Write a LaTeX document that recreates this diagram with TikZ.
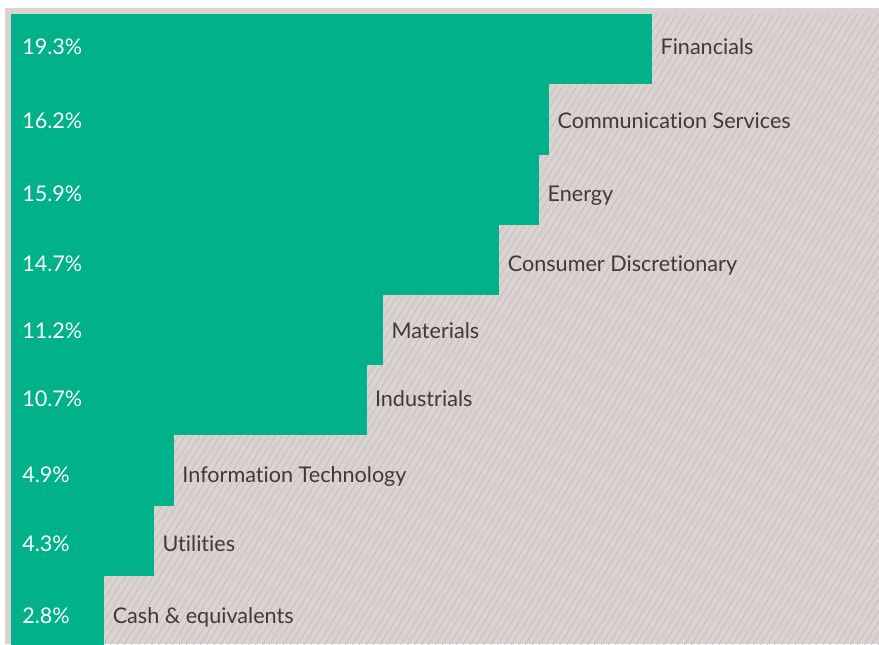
\documentclass[tikz,border=0pt]{standalone}
\usepackage{fontspec}
\setmainfont[Ligatures=NoCommon]{Lato}
\usepackage{tikz}
\usetikzlibrary{patterns.meta}

\definecolor{barGreen}{HTML}{00B189}
\definecolor{paneGrey}{HTML}{D9D4D2}
\definecolor{hatchGrey}{HTML}{C4B9B4}
\definecolor{labelGrey}{HTML}{3F3A37}

\tikzset{
  sectorbar/.style={draw=none, fill=barGreen, inner sep=0pt, anchor=north west,
    minimum height=52.65pt, minimum width=#1*24.9pt},
  pctlabel/.style={inner sep=0pt, anchor=base west, text=white},
  sectorlabel/.style={inner sep=0pt, anchor=base west, text=labelGrey, xshift=6pt},
}

\begin{document}
\begin{tikzpicture}[x=0.75pt, y=-0.75pt, font=\fontsize{16.2}{19}\selectfont]
\useasboundingbox (0,0) rectangle (879,644);
\fill[white] (0,0) rectangle (879,644);
\fill[paneGrey] (5,8) rectangle (879,644);
\path[pattern={Lines[angle=58, distance=4.4pt, line width=0.45pt]}, pattern color=hatchGrey]
  (11,14) rectangle (879,644);

\node[sectorbar=19.3] (FIN) at (11,14) {};
\node[sectorbar=16.2] (COM) at (11,84.2) {};
\node[sectorbar=15.9] (ENE) at (11,154.4) {};
\node[sectorbar=14.7] (CON) at (11,224.6) {};
\node[sectorbar=11.2] (MAT) at (11,294.8) {};
\node[sectorbar=10.7] (IND) at (11,365) {};
\node[sectorbar=4.9] (INF) at (11,435.2) {};
\node[sectorbar=4.3] (UTI) at (11,505.4) {};
\node[sectorbar=2.8] (CSH) at (11,575.6) {};

\node[pctlabel] (FINpct) at (22,54) {19.3\%};
\node[pctlabel] (COMpct) at (22,128) {16.2\%};
\node[pctlabel] (ENEpct) at (22,201) {15.9\%};
\node[pctlabel] (CONpct) at (22,271) {14.7\%};
\node[pctlabel] (MATpct) at (22,338) {11.2\%};
\node[pctlabel] (INDpct) at (22,406) {10.7\%};
\node[pctlabel] (INFpct) at (22,482) {4.9\%};
\node[pctlabel] (UTIpct) at (22,551) {4.3\%};
\node[pctlabel] (CSHpct) at (22,623) {2.8\%};

\node[sectorlabel] (FINtxt) at (FIN.east |- FINpct.base) {Financials};
\node[sectorlabel] (COMtxt) at (COM.east |- COMpct.base) {Communication Services};
\node[sectorlabel] (ENEtxt) at (ENE.east |- ENEpct.base) {Energy};
\node[sectorlabel] (CONtxt) at (CON.east |- CONpct.base) {Consumer Discretionary};
\node[sectorlabel] (MATtxt) at (MAT.east |- MATpct.base) {Materials};
\node[sectorlabel] (INDtxt) at (IND.east |- INDpct.base) {Industrials};
\node[sectorlabel] (INFtxt) at (INF.east |- INFpct.base) {Information Technology};
\node[sectorlabel] (UTItxt) at (UTI.east |- UTIpct.base) {Utilities};
\node[sectorlabel] (CSHtxt) at (CSH.east |- CSHpct.base) {Cash \& equivalents};
\end{tikzpicture}
\end{document}
